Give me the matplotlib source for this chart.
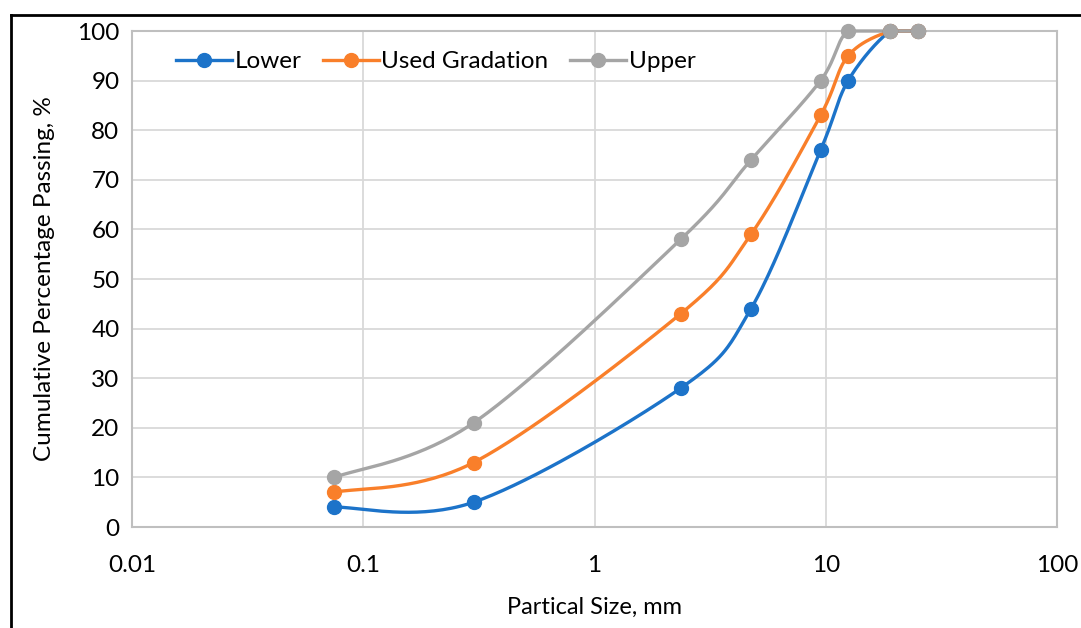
import numpy as np
from matplotlib import pyplot as plt
from matplotlib.lines import Line2D

# ============================== Data =============================== #
sieve = [0.075, 0.3, 2.36, 4.75, 9.5, 12.5, 19, 25]
lower = [4, 5, 28, 44, 76, 90, 100, 100]
used = [7, 13, 43, 59, 83, 95, 100, 100]
upper = [10, 21, 58, 74, 90, 100, 100, 100]
names = ["Lower", "Used Gradation", "Upper"]
colors = ["#1C73C9", "#F97F2A", "#A5A5A5"]
x_title = "Partical Size, mm"
y_title = "Cumulative Percentage Passing, %"
# =================================================================== #


def smooth(xs, ys, n=40):
    # catmull-rom through the points in (log x, y), like excel's smoothed line
    lx = np.log10(xs)
    ys = np.asarray(ys, float)
    px = np.concatenate([[lx[0]], lx, [lx[-1]]])
    py = np.concatenate([[ys[0]], ys, [ys[-1]]])
    outx, outy = [], []
    for i in range(1, len(px) - 2):
        t = np.linspace(0, 1, n)
        for p, out in ((px, outx), (py, outy)):
            p0, p1, p2, p3 = p[i - 1], p[i], p[i + 1], p[i + 2]
            out.extend(0.5 * (2 * p1 + (-p0 + p2) * t
                              + (2 * p0 - 5 * p1 + 4 * p2 - p3) * t ** 2
                              + (-p0 + 3 * p1 - 3 * p2 + p3) * t ** 3))
    return 10 ** np.array(outx), np.array(outy)


plt.rcParams['font.family'] = ['Lato', 'DejaVu Sans']

fig = plt.figure(figsize=(10.81, 6.28), dpi=100)
ax = fig.add_axes([132 / 1081, 1 - 527 / 628, (1057 - 132) / 1081, (527 - 31) / 628])

for ys, name, c in zip([lower, used, upper], names, colors):
    sx, sy = smooth(sieve, ys)
    ax.plot(sx, np.minimum(sy, 100), color=c, lw=2.4, zorder=3, clip_on=False)
    ax.plot(sieve, ys, 'o', color=c, ms=10, zorder=4, clip_on=False)

ax.set_xscale('log')
ax.set_xlim(0.01, 100)
ax.set_ylim(0, 100)
ax.set_yticks(range(0, 101, 10))
ax.set_xticks([0.01, 0.1, 1, 10, 100])
ax.set_xticklabels(["0.01", "0.1", "1", "10", "100"])
ax.minorticks_off()
ax.tick_params(length=0, labelsize=17.5, pad=9)
ax.tick_params(axis='x', pad=20)
ax.grid(True, color='#D9D9D9', lw=1.3)
ax.set_axisbelow(True)
for s in ax.spines.values():
    s.set_color('#BFBFBF')
    s.set_linewidth(1.5)

ax.set_xlabel(x_title, fontsize=17, labelpad=15)
ax.set_ylabel(y_title, fontsize=17.5, labelpad=16)

handles = [Line2D([], [], color=c, lw=2.4, marker='o', ms=10) for c in colors]
ax.legend(handles, names, loc='upper left', bbox_to_anchor=(0.024, 1.003), ncol=3,
          frameon=False, fontsize=17.5, handlelength=2.3, handletextpad=0.1,
          columnspacing=0.9)

# outer frame edges visible in the crop
fig.add_artist(Line2D([11 / 1081, 11 / 1081], [0, 1 - 15 / 628], color='black', lw=2))
fig.add_artist(Line2D([11 / 1081, 1], [1 - 15 / 628, 1 - 15 / 628], color='black', lw=2))

fig.savefig('out.png', dpi=100)
